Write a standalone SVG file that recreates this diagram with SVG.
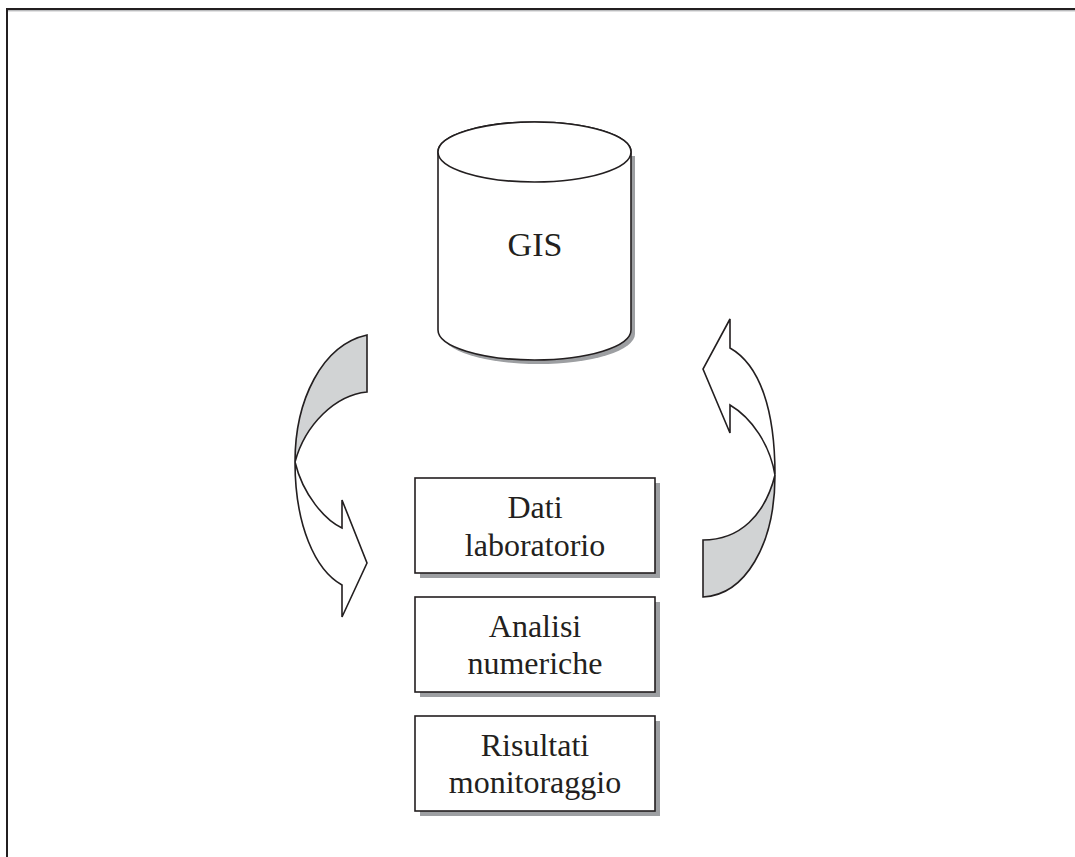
<svg xmlns="http://www.w3.org/2000/svg" width="1075" height="857" viewBox="0 0 1075 857">
<style>
.ln{fill:none;stroke:#231f20;stroke-width:2}
.sh{fill:#9d9fa2;stroke:none}
.bx{fill:#ffffff;stroke:#231f20;stroke-width:1.6}
.gr{fill:#d1d3d4;stroke:#231f20;stroke-width:1.6;stroke-linejoin:miter}
.wh{fill:#ffffff;stroke:#231f20;stroke-width:1.6;stroke-linejoin:miter}
.t{font-family:"Liberation Serif","Times New Roman",serif;fill:#231f20;text-anchor:middle}
</style>
<rect width="1075" height="857" fill="#ffffff"/>
<g id="frame">
<line class="ln" x1="7" y1="9" x2="1075" y2="9"/>
<line x1="8" y1="10.8" x2="1075" y2="10.8" stroke="#9d9fa2" stroke-width="1"/>
<line class="ln" x1="7" y1="8" x2="7" y2="857"/>
</g>
<g id="gis">
<path class="sh" d="M442,156 L442,334 A96.5,30 0 0 0 635,334 L635,156 Z"/>
<path class="bx" d="M438,152 L438,330 A96.5,30 0 0 0 631,330 L631,152 A96.5,30 0 0 0 438,152 Z"/>
<ellipse class="bx" cx="534.5" cy="152" rx="96.5" ry="30"/>
<text class="t" x="535" y="256" font-size="34">GIS</text>
</g>
<g id="dati">
<rect class="sh" x="420" y="483" width="240" height="95"/>
<rect class="bx" x="415" y="478" width="240" height="95"/>
<text class="t" x="535" y="518" font-size="32">Dati</text>
<text class="t" x="535" y="556" font-size="32">laboratorio</text>
</g>
<g id="analisi">
<rect class="sh" x="420" y="602" width="240" height="95"/>
<rect class="bx" x="415" y="597" width="240" height="95"/>
<text class="t" x="535" y="637" font-size="32">Analisi</text>
<text class="t" x="535" y="674" font-size="32">numeriche</text>
</g>
<g id="risultati">
<rect class="sh" x="420" y="721" width="240" height="95"/>
<rect class="bx" x="415" y="716" width="240" height="95"/>
<text class="t" x="535" y="756" font-size="32">Risultati</text>
<text class="t" x="535" y="793" font-size="32">monitoraggio</text>
</g>
<g id="connectors">
<g id="arrow-left">
<path class="gr" d="M367,335 L367,392 C335,395 305,425 295,462 C295,400 322,345 367,335 Z"/>
<path class="wh" d="M295,462 C295,525 315,570 342,585 L342,617 L367,563 L342,500 L342,528 C325,520 303,495 295,462 Z"/>
</g>
<g id="arrow-right">
<path class="gr" d="M703,540 L703,597 C745,595 775,545 775,475 C765,515 740,540 703,540 Z"/>
<path class="wh" d="M775,475 C775,410 760,365 730,348 L730,319 L703,369 L730,433 L730,405 C752,418 770,445 775,475 Z"/>
</g>
</g>
</svg>
